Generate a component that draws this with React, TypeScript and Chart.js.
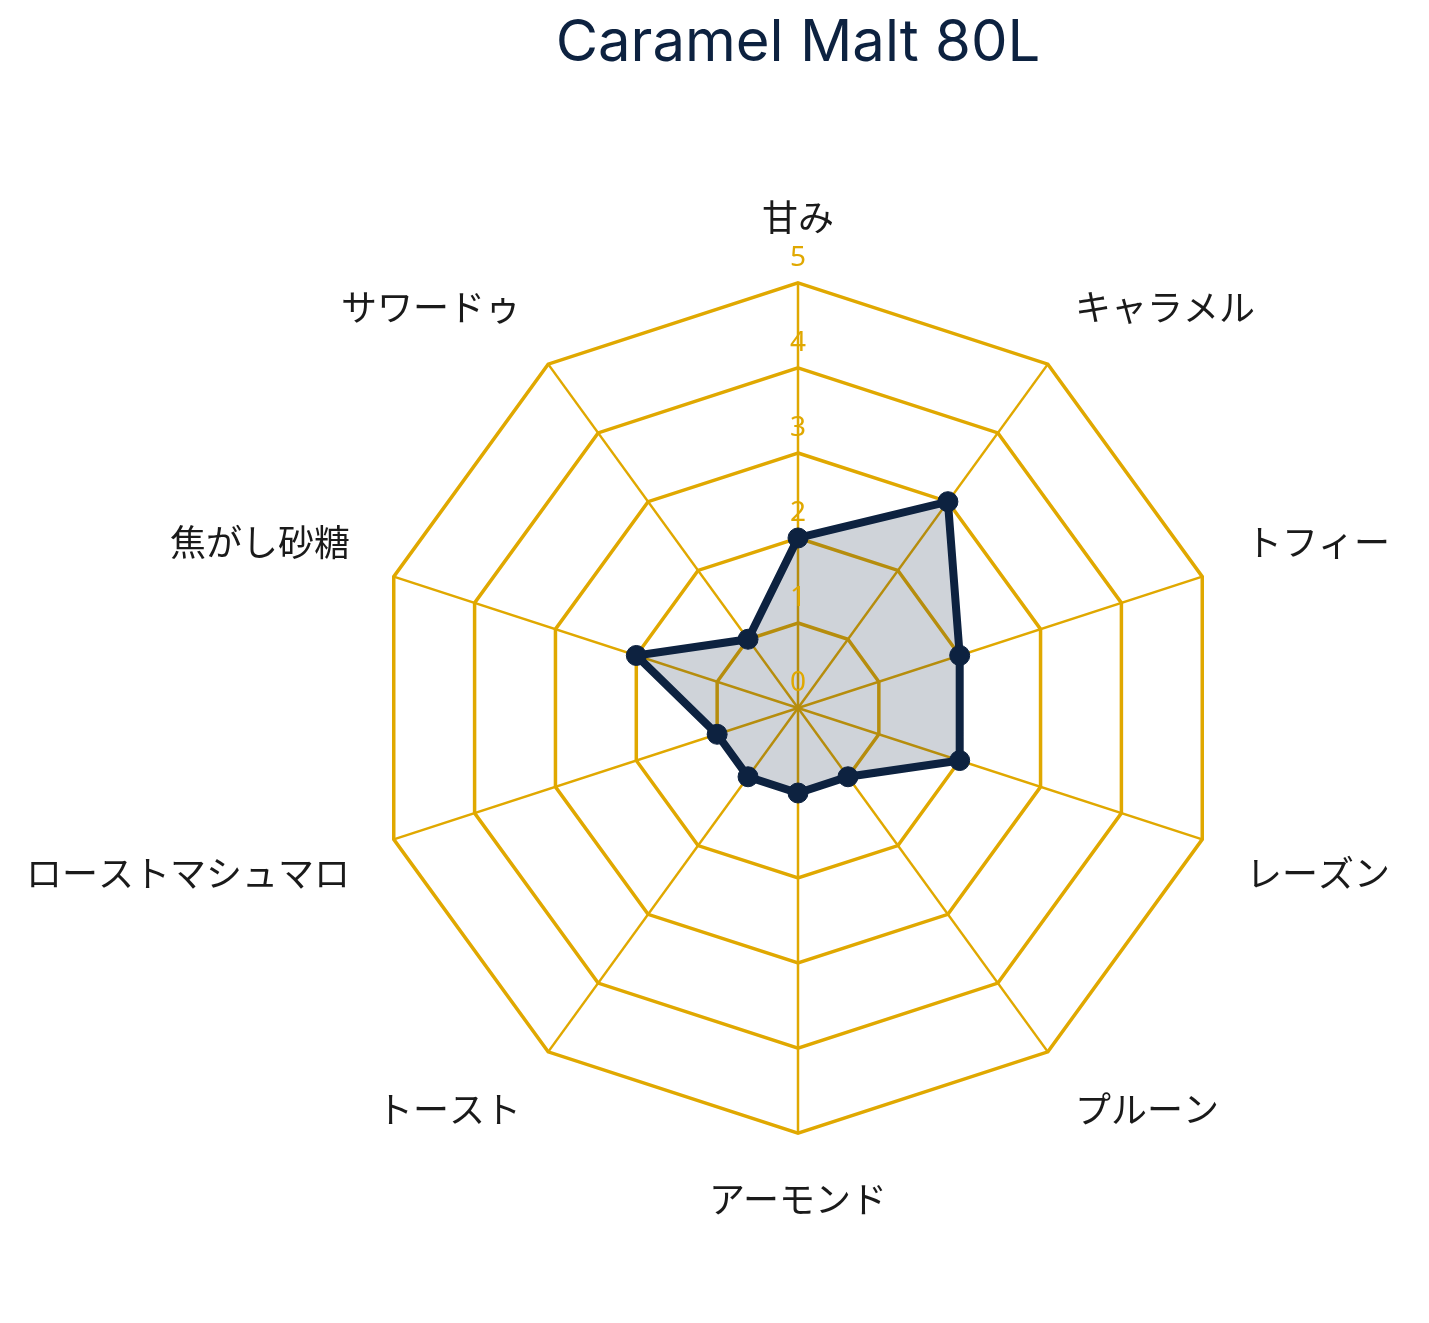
import { useEffect, useRef } from "react"
import { Chart, registerables } from "chart.js"

Chart.register(...registerables)

const chartTitle = "Caramel Malt 80L"
const flavours = ["甘み", "キャラメル", "トフィー", "レーズン", "プルーン", "アーモンド", "トースト", "ローストマシュマロ", "焦がし砂糖", "サワードゥ"]
const intensity = [2, 3, 2, 2, 1, 1, 1, 1, 2, 1]
const tickValues = [0, 1, 2, 3, 4, 5]

const NAVY = "#0d2240"
const GOLD = "#e0a800"

// tick numbers sit just above each ring, drawn over the fill
const tickLabelPlugin = {
  id: "tickLabels",
  afterDatasetsDraw(chart: Chart) {
    const scale: any = chart.scales.r
    const ctx = chart.ctx
    ctx.save()
    ctx.fillStyle = GOLD
    ctx.font = "28px 'Noto Sans', sans-serif"
    ctx.textAlign = "center"
    ctx.textBaseline = "middle"
    tickValues.forEach((v) => {
      const p = scale.getPointPositionForValue(0, v)
      ctx.fillText(String(v), p.x, p.y - 25)
    })
    ctx.restore()
  },
}

// title centred over the radar rather than the canvas
const titlePlugin = {
  id: "centredTitle",
  afterDraw(chart: Chart) {
    const scale: any = chart.scales.r
    const ctx = chart.ctx
    ctx.save()
    ctx.fillStyle = NAVY
    ctx.font = "58px Inter, sans-serif"
    ctx.textAlign = "center"
    ctx.textBaseline = "middle"
    ctx.fillText(chartTitle, scale.xCenter, 36)
    ctx.restore()
  },
}

export default function App() {
  const chartRef = useRef<HTMLCanvasElement>(null)
  const chartInstance = useRef<Chart | null>(null)

  useEffect(() => {
    if (!chartRef.current) return
    if (chartInstance.current) chartInstance.current.destroy()
    const ctx = chartRef.current.getContext("2d")
    if (!ctx) return

    chartInstance.current = new Chart(ctx, {
      type: "radar",
      data: {
        labels: flavours,
        datasets: [
          {
            label: chartTitle,
            data: intensity,
            borderColor: NAVY,
            backgroundColor: "rgba(13, 34, 64, 0.2)",
            borderWidth: 8,
            fill: true,
            pointRadius: 10,
            pointBackgroundColor: NAVY,
            pointBorderColor: NAVY,
            pointBorderWidth: 1,
          },
        ],
      },
      plugins: [tickLabelPlugin, titlePlugin],
      options: {
        responsive: true,
        maintainAspectRatio: false,
        animation: false,
        layout: { padding: { top: 100, bottom: 7 } },
        scales: {
          r: {
            min: 0,
            max: 5,
            ticks: { stepSize: 1, display: false },
            grid: { color: GOLD, lineWidth: 3.5 },
            angleLines: { color: GOLD, lineWidth: 2.5 },
            pointLabels: {
              color: "#1a1a1a",
              padding: 46,
              font: { size: 36, lineHeight: 1.1, family: "'Noto Sans CJK JP', sans-serif" },
            },
          },
        },
        plugins: {
          legend: { display: false },
          title: { display: false },
          tooltip: { enabled: false },
        },
      },
    })

    return () => {
      if (chartInstance.current) {
        chartInstance.current.destroy()
        chartInstance.current = null
      }
    }
  }, [])

  // the radar is wider than the page and shifted left, so the long left-hand labels fit
  return (
    <div style={{ width: "100%", height: 1307, overflow: "hidden" }}>
      <div style={{ width: 1544, height: 1307, marginLeft: -69, position: "relative" }}>
        <canvas ref={chartRef} />
      </div>
    </div>
  )
}
